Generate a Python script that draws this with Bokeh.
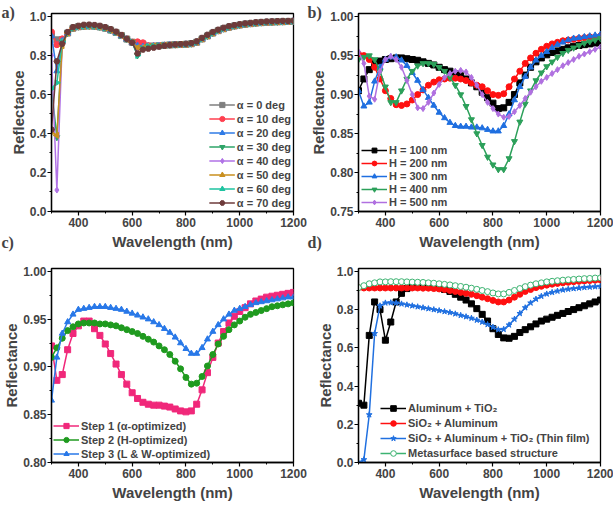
import math
from bokeh.plotting import figure
from bokeh.layouts import gridplot
from bokeh.models import Range1d, FixedTicker, Title, NumeralTickFormatter
from bokeh.embed import file_html
from bokeh.resources import INLINE

wl = [300, 320, 340, 360, 380, 400, 420, 440, 460, 480, 500, 520, 540, 560, 580, 600,
      620, 640, 660, 680, 700, 720, 740, 760, 780, 800, 820, 840, 860, 880, 900, 920,
      940, 960, 980, 1000, 1020, 1040, 1060, 1080, 1100, 1120, 1140, 1160, 1180, 1200]

x_ticks = [400, 600, 800, 1000, 1200]
x_minor = [300, 500, 700, 900, 1100]

# ---------- panel a ----------
a_labels = ["α = 0 deg", "α = 10 deg", "α = 20 deg", "α = 30 deg",
            "α = 40 deg", "α = 50 deg", "α = 60 deg", "α = 70 deg"]
a0 = [0.90, 0.88, 0.88, 0.915, 0.94, 0.947, 0.95, 0.951, 0.95, 0.946, 0.94, 0.93, 0.918, 0.902, 0.884, 0.868,
      0.86, 0.858, 0.848, 0.848, 0.85, 0.852, 0.854, 0.855, 0.856, 0.857, 0.86, 0.868, 0.885, 0.90, 0.915, 0.927,
      0.937, 0.945, 0.951, 0.956, 0.96, 0.963, 0.966, 0.968, 0.97, 0.971, 0.972, 0.973, 0.974, 0.975]
a10 = [0.92, 0.855, 0.885, 0.915, 0.94, 0.947, 0.95, 0.951, 0.95, 0.946, 0.94, 0.93, 0.918, 0.902, 0.884, 0.868,
       0.87, 0.865, 0.85, 0.849, 0.85, 0.852, 0.854, 0.855, 0.856, 0.857, 0.86, 0.868, 0.885, 0.90, 0.915, 0.927,
       0.937, 0.945, 0.951, 0.956, 0.96, 0.963, 0.966, 0.968, 0.97, 0.971, 0.972, 0.973, 0.974, 0.975]
a20 = [0.90, 0.72, 0.875, 0.915, 0.94, 0.946, 0.949, 0.95, 0.949, 0.945, 0.939, 0.929, 0.917, 0.901, 0.883, 0.867,
       0.85, 0.845, 0.847, 0.848, 0.85, 0.852, 0.854, 0.855, 0.856, 0.857, 0.86, 0.868, 0.885, 0.90, 0.915, 0.927,
       0.937, 0.945, 0.951, 0.956, 0.96, 0.963, 0.966, 0.968, 0.97, 0.971, 0.972, 0.973, 0.974, 0.975]
a30 = [0.63, 0.38, 0.87, 0.915, 0.94, 0.947, 0.95, 0.951, 0.95, 0.946, 0.94, 0.93, 0.918, 0.902, 0.884, 0.868,
       0.80, 0.835, 0.846, 0.848, 0.85, 0.852, 0.854, 0.855, 0.856, 0.857, 0.86, 0.868, 0.885, 0.90, 0.915, 0.927,
       0.937, 0.945, 0.951, 0.956, 0.96, 0.963, 0.966, 0.968, 0.97, 0.971, 0.972, 0.973, 0.974, 0.975]
a40 = [0.80, 0.11, 0.87, 0.915, 0.94, 0.947, 0.95, 0.951, 0.95, 0.946, 0.94, 0.93, 0.918, 0.902, 0.884, 0.868,
       0.83, 0.84, 0.847, 0.848, 0.85, 0.852, 0.854, 0.855, 0.856, 0.857, 0.86, 0.868, 0.885, 0.90, 0.915, 0.927,
       0.937, 0.945, 0.951, 0.956, 0.96, 0.963, 0.966, 0.968, 0.97, 0.971, 0.972, 0.973, 0.974, 0.975]
a50 = [0.41, 0.39, 0.85, 0.915, 0.94, 0.947, 0.95, 0.951, 0.95, 0.946, 0.94, 0.93, 0.918, 0.902, 0.884, 0.868,
       0.84, 0.84, 0.847, 0.848, 0.85, 0.852, 0.854, 0.855, 0.856, 0.857, 0.86, 0.868, 0.885, 0.90, 0.915, 0.927,
       0.937, 0.945, 0.951, 0.956, 0.96, 0.963, 0.966, 0.968, 0.97, 0.971, 0.972, 0.973, 0.974, 0.975]
a60 = [0.63, 0.66, 0.87, 0.915, 0.94, 0.947, 0.95, 0.951, 0.95, 0.946, 0.94, 0.93, 0.918, 0.902, 0.884, 0.868,
       0.80, 0.835, 0.846, 0.848, 0.85, 0.852, 0.854, 0.855, 0.856, 0.857, 0.86, 0.868, 0.885, 0.90, 0.915, 0.927,
       0.937, 0.945, 0.951, 0.956, 0.96, 0.963, 0.966, 0.968, 0.97, 0.971, 0.972, 0.973, 0.974, 0.975]
a70 = [0.42, 0.77, 0.86, 0.92, 0.945, 0.952, 0.957, 0.958, 0.956, 0.952, 0.945, 0.935, 0.922, 0.905, 0.885, 0.866,
       0.81, 0.83, 0.835, 0.84, 0.845, 0.85, 0.853, 0.856, 0.858, 0.86, 0.863, 0.872, 0.89, 0.906, 0.92, 0.932,
       0.942, 0.95, 0.955, 0.96, 0.964, 0.967, 0.97, 0.972, 0.974, 0.975, 0.976, 0.977, 0.977, 0.978]
a_series = [a0, a10, a20, a30, a40, a50, a60, a70]
a_colors = ["#7f7f7f", "#ff3f4f", "#2f7be6", "#2ea468", "#b072e6", "#c98f1e", "#1ec3a0", "#6e3b3b"]
a_markers = [("square", 0), ("circle", 0), ("triangle", 0), ("inverted_triangle", 0),
             ("diamond", 0), ("triangle", math.pi / 2), ("triangle", -math.pi / 2), ("hex", 0)]

# ---------- panel b ----------
b_labels = ["H = 100 nm", "H = 200 nm", "H = 300 nm", "H = 400 nm", "H = 500 nm"]
b100 = [0.905, 0.92, 0.932, 0.94, 0.943, 0.945, 0.946, 0.947, 0.947, 0.946, 0.945, 0.944, 0.942, 0.94, 0.938, 0.935,
        0.932, 0.93, 0.927, 0.924, 0.92, 0.915, 0.91, 0.903, 0.896, 0.889, 0.882, 0.883, 0.89, 0.90, 0.915, 0.925,
        0.935, 0.942, 0.947, 0.951, 0.954, 0.956, 0.958, 0.96, 0.962, 0.963, 0.964, 0.965, 0.966, 0.967]
b200 = [0.952, 0.95, 0.945, 0.935, 0.92, 0.905, 0.895, 0.887, 0.886, 0.888, 0.893, 0.90, 0.906, 0.912, 0.916, 0.919,
        0.92, 0.921, 0.921, 0.92, 0.918, 0.915, 0.912, 0.91, 0.905, 0.90, 0.899, 0.901, 0.91, 0.92, 0.93, 0.94,
        0.947, 0.953, 0.958, 0.962, 0.965, 0.967, 0.969, 0.97, 0.971, 0.972, 0.973, 0.974, 0.974, 0.975]
b300 = [0.905, 0.885, 0.89, 0.917, 0.935, 0.945, 0.948, 0.948, 0.944, 0.937, 0.928, 0.918, 0.906, 0.896, 0.886, 0.877,
        0.87, 0.864, 0.86, 0.859, 0.859, 0.858, 0.858, 0.857, 0.855, 0.853, 0.853, 0.86, 0.875, 0.893, 0.91, 0.923,
        0.935, 0.944, 0.95, 0.955, 0.96, 0.964, 0.967, 0.97, 0.972, 0.973, 0.974, 0.975, 0.976, 0.977]
b400 = [0.945, 0.948, 0.95, 0.945, 0.93, 0.91, 0.89, 0.89, 0.905, 0.92, 0.93, 0.937, 0.94, 0.94, 0.939, 0.935,
        0.93, 0.922, 0.912, 0.90, 0.885, 0.868, 0.85, 0.835, 0.82, 0.81, 0.804, 0.804, 0.818, 0.84, 0.865, 0.888,
        0.905, 0.918, 0.928, 0.936, 0.942, 0.948, 0.953, 0.957, 0.96, 0.963, 0.966, 0.968, 0.97, 0.972]
b500 = [0.955, 0.94, 0.898, 0.894, 0.93, 0.945, 0.949, 0.945, 0.935, 0.918, 0.90, 0.883, 0.882, 0.89, 0.902, 0.913,
        0.922, 0.927, 0.93, 0.931, 0.929, 0.922, 0.912, 0.90, 0.89, 0.882, 0.875, 0.871, 0.872, 0.878, 0.886, 0.895,
        0.903, 0.91, 0.917, 0.922, 0.927, 0.932, 0.937, 0.941, 0.945, 0.949, 0.952, 0.955, 0.958, 0.961]
b_series = [b100, b200, b300, b400, b500]
b_colors = ["#000000", "#ff1010", "#1f6fe0", "#2ca05a", "#b070e0"]
b_markers = [("square", 0), ("circle", 0), ("triangle", 0), ("inverted_triangle", 0), ("diamond", 0)]

# ---------- panel c ----------
c_labels = ["Step 1 (α-optimized)", "Step 2 (H-optimized)", "Step 3 (L & W-optimized)"]
c1 = [0.922, 0.886, 0.892, 0.918, 0.935, 0.943, 0.948, 0.948, 0.94, 0.933, 0.924, 0.914, 0.903, 0.892, 0.882, 0.873,
      0.867, 0.863, 0.861, 0.86, 0.86, 0.859, 0.858, 0.856, 0.854, 0.853, 0.854, 0.861, 0.876, 0.894, 0.91, 0.925,
      0.937, 0.946, 0.953, 0.958, 0.962, 0.966, 0.969, 0.971, 0.973, 0.974, 0.975, 0.976, 0.977, 0.978]
c2 = [0.91, 0.92, 0.93, 0.938, 0.942, 0.945, 0.946, 0.946, 0.946, 0.945, 0.945, 0.944, 0.943, 0.941, 0.939, 0.937,
      0.935, 0.932, 0.929, 0.926, 0.922, 0.918, 0.913, 0.906, 0.898, 0.889, 0.882, 0.883, 0.89, 0.901, 0.913, 0.924,
      0.932, 0.939, 0.944, 0.948, 0.952, 0.955, 0.957, 0.959, 0.961, 0.963, 0.964, 0.965, 0.966, 0.967]
c3 = [0.865, 0.91, 0.935, 0.947, 0.955, 0.96, 0.961, 0.962, 0.963, 0.963, 0.963, 0.962, 0.961, 0.96, 0.958, 0.956,
      0.954, 0.952, 0.95, 0.947, 0.944, 0.94, 0.936, 0.931, 0.925, 0.919, 0.914, 0.914, 0.92, 0.929, 0.937, 0.944,
      0.95, 0.955, 0.959, 0.961, 0.963, 0.965, 0.967, 0.968, 0.969, 0.97, 0.971, 0.972, 0.973, 0.973]
c_series = [c1, c2, c3]
c_colors = ["#f0287a", "#1f9a1f", "#2878e8"]
c_markers = [("square", 0), ("circle", 0), ("triangle", 0)]

# ---------- panel d ----------
d_labels = ["Aluminum + TiO₂", "SiO₂ + Aluminum", "SiO₂ + Aluminum + TiO₂ (Thin film)", "Metasurface based structure"]
d1 = [0.31, 0.30, 0.665, 0.84, 0.80, 0.64, 0.735, 0.84, 0.885, 0.91, 0.92, 0.925, 0.925, 0.924, 0.92, 0.915,
      0.905, 0.895, 0.88, 0.865, 0.85, 0.83, 0.805, 0.775, 0.74, 0.70, 0.67, 0.652, 0.65, 0.66, 0.68, 0.695,
      0.71, 0.725, 0.74, 0.75, 0.76, 0.77, 0.78, 0.79, 0.80, 0.81, 0.82, 0.83, 0.84, 0.85]
d2 = [0.915, 0.913, 0.913, 0.913, 0.913, 0.913, 0.913, 0.913, 0.913, 0.913, 0.913, 0.913, 0.912, 0.912, 0.91, 0.908,
      0.905, 0.90, 0.895, 0.89, 0.885, 0.88, 0.873, 0.865, 0.857, 0.848, 0.84, 0.84, 0.85, 0.865, 0.88, 0.895,
      0.905, 0.915, 0.922, 0.928, 0.933, 0.937, 0.94, 0.943, 0.946, 0.948, 0.95, 0.952, 0.954, 0.955]
d3 = [0.0, 0.015, 0.25, 0.675, 0.82, 0.835, 0.836, 0.835, 0.83, 0.825, 0.82, 0.815, 0.81, 0.805, 0.80, 0.795,
      0.79, 0.785, 0.778, 0.77, 0.763, 0.755, 0.745, 0.735, 0.722, 0.708, 0.695, 0.697, 0.72, 0.75, 0.78, 0.81,
      0.835, 0.855, 0.87, 0.882, 0.89, 0.897, 0.903, 0.907, 0.91, 0.913, 0.916, 0.918, 0.92, 0.922]
d4 = [0.915, 0.925, 0.935, 0.94, 0.945, 0.945, 0.946, 0.946, 0.946, 0.945, 0.944, 0.943, 0.942, 0.94, 0.938, 0.935,
      0.932, 0.929, 0.925, 0.921, 0.917, 0.912, 0.906, 0.90, 0.894, 0.887, 0.882, 0.882, 0.89, 0.90, 0.91, 0.92,
      0.928, 0.935, 0.94, 0.945, 0.948, 0.951, 0.954, 0.956, 0.958, 0.96, 0.962, 0.963, 0.965, 0.966]
d_series = [d1, d2, d3, d4]
d_colors = ["#000000", "#ff1010", "#2070e0", "#3cb371"]
d_markers = [("square", 0), ("circle", 0), ("star", 0), ("circle", 0)]

FONT = "Liberation Sans"


def make(w, h, yr, yticks, yminor, yfmt, mbl, mbr, mbt, mbb):
    p = figure(width=w, height=h, x_range=Range1d(300, 1200), y_range=Range1d(*yr),
               output_backend="svg", toolbar_location=None,
               min_border_left=mbl, min_border_right=mbr, min_border_top=mbt, min_border_bottom=mbb)
    p.grid.visible = False
    p.outline_line_color = "black"
    p.outline_line_alpha = 1
    p.outline_line_width = 1.3
    p.background_fill_color = "white"
    for ax in p.axis:
        ax.axis_line_width = 1.3
        ax.major_tick_in = 0
        ax.major_tick_out = 4
        ax.minor_tick_in = 0
        ax.minor_tick_out = 2
        ax.major_tick_line_width = 1.2
        ax.minor_tick_line_width = 1.0
        ax.major_label_text_font = FONT
        ax.major_label_text_font_style = "bold"
        ax.major_label_text_font_size = "12px"
        ax.axis_label_text_font = FONT
        ax.axis_label_text_font_style = "bold"
        ax.axis_label_text_font_size = "15px"
    p.xaxis.major_label_standoff = 2
    p.xaxis.axis_label_standoff = 3
    p.yaxis.major_label_standoff = 1
    p.yaxis.axis_label_standoff = 0
    p.xaxis.ticker = FixedTicker(ticks=x_ticks, minor_ticks=x_minor)
    p.yaxis.ticker = FixedTicker(ticks=yticks, minor_ticks=yminor)
    p.yaxis.formatter = NumeralTickFormatter(format=yfmt)
    p.xaxis.axis_label = "Wavelength (nm)"
    p.yaxis.axis_label = "Reflectance"
    return p


def draw(p, series, colors, markers, labels, size=6, open_last=False):
    for i, (ys, c, (m, ang), lab) in enumerate(zip(series, colors, markers, labels)):
        p.line(wl, ys, line_color=c, line_width=1.5, legend_label=lab)
        fill = c
        if open_last and i == len(series) - 1:
            fill = "white"
        p.scatter(wl, ys, marker=m, angle=ang, size=size, fill_color=fill, line_color=c,
                  line_width=1, legend_label=lab)


def style_legend(p, loc, gh, spacing, margin=2):
    lg = p.legend[0]
    lg.location = loc
    lg.background_fill_alpha = 0
    lg.border_line_alpha = 0
    lg.padding = 0
    lg.margin = margin
    lg.spacing = spacing
    lg.glyph_width = 26
    lg.glyph_height = gh
    lg.label_height = gh
    lg.label_standoff = 2
    lg.label_text_font = FONT
    lg.label_text_font_style = "bold"
    lg.label_text_font_size = "11px"
    lg.label_text_baseline = "middle"


def top_label(p, text, offset):
    t = p.title
    t.text = text
    t.align = "left"
    t.offset = offset
    t.standoff = -14
    t.vertical_align = "bottom"
    t.text_font = "Liberation Serif"
    t.text_font_style = "bold"
    t.text_font_size = "16px"


def bottom_label(p, text, offset):
    p.add_layout(Title(text=text, align="left", offset=offset, standoff=-38,
                       vertical_align="top", text_font="Liberation Serif",
                       text_font_style="bold", text_font_size="16px"), "below")


y_a = [0.0, 0.2, 0.4, 0.6, 0.8, 1.0]
y_a_minor = [0.1, 0.3, 0.5, 0.7, 0.9]
y_b = [0.75, 0.80, 0.85, 0.90, 0.95, 1.00]
y_b_minor = [0.775, 0.825, 0.875, 0.925, 0.975]
y_c = [0.80, 0.85, 0.90, 0.95, 1.00]
y_c_minor = [0.825, 0.875, 0.925, 0.975]

pa = make(307, 253, (0.0, 1.015), y_a, y_a_minor, "0.0", 48, 14, 13, 42)
draw(pa, a_series, a_colors, a_markers, a_labels, size=6)
style_legend(pa, "bottom_right", 13, 1, margin=2)
top_label(pa, "a)", -50)
bottom_label(pa, "c)", -50)

pb = make(306, 253, (0.75, 1.004), y_b, y_b_minor, "0.00", 45, 13, 13, 42)
draw(pb, b_series, b_colors, b_markers, b_labels, size=6)
style_legend(pb, "bottom_left", 12, 1, margin=3)
top_label(pb, "b)", -51)
bottom_label(pb, "d)", -51)

pc = make(307, 252, (0.80, 1.003), y_c, y_c_minor, "0.00", 48, 12, 15, 43)
draw(pc, c_series, c_colors, c_markers, c_labels, size=6)
style_legend(pc, "bottom_left", 13, 1, margin=2)

pd = make(306, 252, (0.0, 1.015), y_a, y_a_minor, "0.0", 45, 13, 13, 42)
draw(pd, d_series, d_colors, d_markers, d_labels, size=6, open_last=True)
style_legend(pd, (22, 2), 14, 1)

grid = gridplot([[pa, pb], [pc, pd]], toolbar_location=None)

open("out.html", "w").write(file_html(grid, INLINE))
